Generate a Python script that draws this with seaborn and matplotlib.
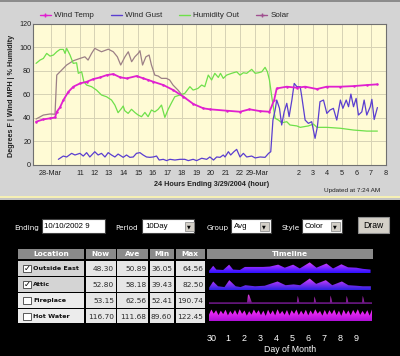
import numpy as np
import pandas as pd
import matplotlib
matplotlib.use('Agg')
import matplotlib.pyplot as plt
import seaborn as sns
from matplotlib.patches import Rectangle
from matplotlib.lines import Line2D
from matplotlib.colors import LinearSegmentedColormap

sns.set_style('white')
plt.rcParams['font.family'] = ['Liberation Sans', 'DejaVu Sans']

W, H = 400, 356

# ---- grafico de cima: horas contadas a partir das 8:00 de 28-Mar
temp_hour = [0.0, 0.5, 0.96, 1.3, 1.42, 1.64, 1.87, 2.21, 2.56, 3.02, 3.48, 3.93, 4.39, 4.85, 5.3,
             5.77, 6.23, 6.9, 7.36, 7.71, 8.05, 8.74, 9.42, 10.12, 10.8, 11.49, 11.93, 13.09, 14.0,
             14.65, 15.35, 16.02, 16.34, 16.52, 17.21, 17.9, 18.47, 19.28, 19.96, 20.89, 21.79, 22.7, 23.43]
temp_val = [36.6, 38.6, 39.5, 40.2, 45.0, 48.8, 55.0, 62.0, 66.5, 69.3, 70.7, 73.0, 74.4, 76.4, 77.3,
            74.5, 73.6, 75.6, 73.6, 72.2, 70.7, 67.9, 63.6, 57.9, 51.7, 48.0, 47.2, 46.0, 45.1,
            47.2, 45.7, 45.1, 55.0, 65.0, 66.5, 65.6, 66.5, 64.5, 66.5, 66.5, 67.0, 67.9, 68.5]

gust_hour = [1.53, 1.87, 2.1, 2.44, 2.67, 3.01, 3.24, 3.47, 3.69, 4.03, 4.26, 4.49, 4.73, 4.95, 5.18,
             5.41, 5.63, 5.98, 6.21, 6.44, 6.67, 6.89, 7.13, 7.35, 7.58, 7.81, 8.04, 8.27, 8.45, 8.73,
             8.96, 9.19, 9.53, 9.88, 10.21, 10.45, 10.78, 11.02, 11.37, 11.71, 11.93, 12.18, 12.4, 12.63,
             12.85, 12.97, 13.2, 13.36, 13.58, 13.77, 14.0, 14.23, 14.46, 14.8, 15.04, 15.38, 15.72,
             15.96, 16.11, 16.26, 16.41, 16.52, 16.71, 16.86, 17.03, 17.21, 17.37, 17.56, 17.72, 17.9,
             18.13, 18.24, 18.47, 18.69, 18.92, 19.15, 19.31, 19.49, 19.73, 19.96, 20.18, 20.41, 20.64,
             20.89, 21.06, 21.29, 21.45, 21.61, 21.79, 21.97, 22.13, 22.36, 22.52, 22.7, 22.94, 23.05,
             23.21, 23.43]
gust_val = [4.5, 7.3, 6.5, 9.6, 8.2, 9.6, 7.3, 10.2, 6.5, 11.0, 8.2, 9.6, 6.5, 10.2, 8.2,
            6.5, 9.0, 6.2, 8.2, 6.2, 6.5, 9.6, 10.2, 8.2, 6.5, 6.2, 6.5, 7.3, 3.9, 4.5,
            3.4, 4.5, 3.9, 4.5, 4.5, 3.4, 4.5, 3.4, 5.4, 4.5, 6.5, 3.9, 6.5, 6.2,
            8.2, 6.5, 11.0, 8.2, 11.0, 13.0, 6.5, 9.6, 6.5, 7.3, 5.7, 6.5, 6.2,
            9.6, 11.0, 38.0, 46.6, 55.1, 48.0, 33.8, 45.0, 52.3, 40.9, 55.1, 69.3, 66.5,
            66.5, 57.9, 38.0, 35.2, 36.6, 22.4, 32.3, 53.7, 55.1, 43.7, 46.6, 48.0, 38.0,
            55.1, 48.0, 55.1, 49.4, 60.2, 49.4, 56.5, 42.3, 45.0, 55.1, 42.3, 49.4, 55.7,
            38.5, 48.7]

hum_hour = [0.0, 0.27, 0.5, 0.73, 0.96, 1.19, 1.42, 1.64, 1.87, 1.99, 2.1, 2.33, 2.55, 2.78, 2.9,
            3.13, 3.28, 3.47, 3.81, 4.15, 4.49, 4.84, 5.18, 5.41, 5.63, 5.87, 5.98, 6.09, 6.32, 6.55,
            6.78, 7.01, 7.24, 7.47, 7.69, 7.92, 8.15, 8.38, 8.61, 8.84, 9.07, 9.3, 9.52, 9.87, 10.21,
            10.56, 10.78, 11.11, 11.37, 11.58, 11.82, 12.05, 12.27, 12.51, 12.66, 12.85, 13.08, 13.42,
            13.77, 14.0, 14.23, 14.46, 14.8, 15.04, 15.27, 15.49, 15.72, 15.88, 16.02, 16.18, 16.41,
            16.64, 16.86, 17.21, 17.43, 17.9, 18.13, 18.69, 19.04, 19.28, 19.96, 20.89, 21.79, 22.7, 23.43]
hum_val = [86.4, 89.2, 90.6, 94.9, 92.6, 93.5, 96.3, 98.3, 98.3, 94.9, 99.2, 93.5, 86.4, 86.9, 77.9,
           79.2, 70.7, 67.9, 66.5, 63.6, 59.4, 57.9, 55.1, 50.8, 44.3, 48.0, 50.0, 46.0, 43.7, 47.2,
           44.5, 42.3, 40.9, 44.5, 40.9, 46.6, 45.0, 47.2, 50.8, 40.3, 47.2, 52.8, 57.9, 59.4, 60.8,
           66.5, 63.6, 65.0, 67.9, 66.5, 76.4, 72.2, 77.9, 74.4, 77.9, 73.6, 76.4, 77.9,
           79.2, 76.4, 78.4, 77.9, 81.3, 77.9, 78.4, 79.2, 83.0, 79.2, 72.2, 57.9, 39.5,
           38.0, 35.7, 36.6, 33.8, 33.0, 31.8, 33.0, 34.6, 31.8, 31.8, 31.0, 29.5, 28.6, 28.6]

solar_hour = [0.0, 0.5, 0.96, 1.3, 1.42, 1.76, 2.1, 2.55, 3.01, 3.35, 3.57, 3.81, 4.03, 4.26, 4.49,
              4.96, 5.3, 5.58, 5.81, 6.1, 6.33, 6.56, 6.78, 7.01, 7.13, 7.31, 7.54, 7.76, 7.92, 8.15,
              8.38, 8.61, 8.95, 9.17, 9.4, 9.74, 10.12, 10.3]
solar_val = [38.9, 42.3, 43.2, 43.0, 76.4, 80.7, 85.0, 88.6, 90.6, 92.0, 89.2, 94.9, 99.2, 97.7, 96.3,
             98.5, 96.3, 92.0, 85.0, 92.0, 96.3, 87.8, 92.0, 94.9, 97.2, 85.0, 92.0, 93.5, 85.0, 76.4,
             75.6, 73.6, 73.6, 72.2, 67.9, 63.6, 57.9, 56.5]

hour_ticks = list(range(1, 25))
hour_labels = ['28-Mar', '', '11', '12', '13', '14', '15', '16', '17', '18', '19', '20', '21', '22',
               '', '29-Mar', '', '2', '3', '4', '5', '6', '7', '8']
y_ticks = [0, 20, 40, 60, 80, 100, 120]

# ---- painel de baixo
locations = ['Outside East', 'Attic', 'Fireplace', 'Hot Water']
checked = [True, True, False, False]
now_vals = [48.30, 52.80, 53.15, 116.70]
ave_vals = [50.89, 58.18, 62.56, 111.68]
min_vals = [36.05, 39.43, 52.41, 89.60]
max_vals = [64.56, 82.50, 190.74, 122.45]
day_labels = ['30', '1', '2', '3', '4', '5', '6', '7', '8', '9']

# timelines (dia 0 = dia 30)
east_day = [-0.15, 0.1, 0.3, 0.72, 1.09, 1.34, 1.76, 2.07, 2.58, 3.2, 3.62, 4.14, 4.55, 5.07, 5.48,
            6.1, 6.52, 7.14, 7.55, 8.07, 8.48, 9.0, 9.4, 9.88]
east_val = [42, 55, 45, 44, 58, 45, 44, 52, 52, 52, 53, 58, 50, 58, 48, 64, 50, 61, 48, 59, 51, 50, 47, 45]
attic_day = [-0.15, 0.1, 0.4, 0.8, 1.1, 1.5, 1.8, 2.1, 2.7, 3.3, 4.1, 4.6, 5.1, 5.5, 6.1, 6.5, 7.1,
             7.5, 8.1, 8.5, 9.0, 9.4, 9.9]
attic_val = [48, 71, 53, 50, 76, 53, 50, 57, 53, 55, 71, 57, 60, 57, 82, 62, 76, 57, 71, 57, 55, 53, 53]
fire_day = [-0.16, 2.2, 2.26, 2.32, 2.5, 5.3, 5.36, 5.45, 6.35, 6.4, 6.5, 7.35, 7.4, 7.5, 8.35, 8.4,
            8.5, 9.35, 9.4, 9.5, 9.97]
fire_val = [53, 53, 170, 185, 54, 53, 160, 54, 53, 150, 54, 53, 165, 54, 53, 160, 54, 53, 160, 54, 53]
hw_val = [100, 121, 104, 118, 98, 116, 102, 120, 97, 115, 101, 119, 99, 122, 103, 117, 96, 114, 100, 121,
          104, 118, 98, 116, 95, 120, 101, 117, 97, 122, 102, 115, 99, 119, 96, 118, 103, 121, 98, 116,
          100, 120, 97, 117, 101, 122, 104, 115, 96, 119, 99, 118, 102, 121, 98, 116, 95, 120, 101, 117,
          97, 119, 103, 122, 99, 115, 100, 118, 96, 121]
hw_day = np.linspace(-0.16, 9.97, len(hw_val))

fig = plt.figure(figsize=(W / 100, H / 100), dpi=100, facecolor='black')


def px_axes(x0, y0, x1, y1):
    return fig.add_axes([x0 / W, 1 - y1 / H, (x1 - x0) / W, (y1 - y0) / H])


bg = fig.add_axes([0, 0, 1, 1])
bg.set_xlim(0, W)
bg.set_ylim(H, 0)
bg.axis('off')


def box(x0, y0, x1, y1, fc, ec='none', lw=0.8):
    bg.add_patch(Rectangle((x0, y0), x1 - x0, y1 - y0, fc=fc, ec=ec, lw=lw))


def txt(x, y, s, **kw):
    kw.setdefault('va', 'center')
    bg.text(x, y, s, **kw)


# fundo do painel de cima
box(0, 0, W, 197.5, '#d4d4d4')
box(0, 0, W, 1.5, '#8c8c8c')
box(0, 196, W, 197.5, '#f6f0b4')
box(0, 197.5, W, 200, '#c4c4c4')

# ---- grafico de linhas
ax = px_axes(33.3, 24, 385.7, 164.6)
ax.set_facecolor('#fffbd5')
sns.lineplot(x=solar_hour, y=solar_val, ax=ax, color='#9c8086', lw=0.9, estimator=None)
sns.lineplot(x=hum_hour, y=hum_val, ax=ax, color='#6ee04a', lw=0.9, estimator=None)
sns.lineplot(x=gust_hour, y=gust_val, ax=ax, color='#5a3ed0', lw=0.9, estimator=None)
sns.lineplot(x=temp_hour, y=temp_val, ax=ax, color='#e020d0', lw=1.3, estimator=None,
             marker='o', markersize=1.8, markeredgewidth=0)
ax.set_xlim(-0.19, 24)
ax.set_ylim(0, 120)
ax.set_xticks(hour_ticks)
ax.set_xticklabels(hour_labels)
ax.get_xticklabels()[15].set_ha('right')
ax.set_yticks(y_ticks)
ax.grid(True, color='#d6d2b4', lw=0.7)
ax.tick_params(axis='x', length=2.5, width=0.6, color='#606060', pad=1.5, labelsize=5.2, labelcolor='#202020')
ax.tick_params(axis='y', length=0, pad=1.5, labelsize=5.2, labelcolor='#202020')
for s in ax.spines.values():
    s.set_color('#707070')
    s.set_linewidth(0.8)
ax.set_xlabel('')
ax.set_ylabel('')

fig.text(12 / W, 1 - 96 / H, 'Degrees F | Wind MPH | % Humidity', rotation=90, ha='center', va='center',
         fontsize=5.2, fontweight='bold', color='#202020')
fig.text(212 / W, 1 - 185 / H, '24 Hours Ending 3/29/2004 (hour)', ha='center', va='center',
         fontsize=5.2, fontweight='bold', color='#202020')
fig.text(324 / W, 1 - 190.7 / H, 'Updated at 7:24 AM', ha='left', va='center', fontsize=4.6, color='#202020')

handles = [Line2D([], [], color='#e020d0', lw=1.0, marker='+', markersize=3),
           Line2D([], [], color='#5a3ed0', lw=1.0),
           Line2D([], [], color='#6ee04a', lw=1.0),
           Line2D([], [], color='#a05090', lw=1.0, marker='+', markersize=3)]
fig.legend(handles, ['Wind Temp', 'Wind Gust', 'Humidity Out', 'Solar'], ncol=4, frameon=False,
           loc='center left', bbox_to_anchor=(40 / W, 1 - 15.5 / H), fontsize=5.8,
           handlelength=1.35, handletextpad=0.4, columnspacing=2.1, borderaxespad=0, borderpad=0)

# ---- controles
ui = dict(color='white', fontsize=5.2, family='DejaVu Sans')
txt(14, 228.3, 'Ending', **ui)
box(41.7, 219, 105, 233.3, 'white', '#404040')
txt(44, 226, '10/10/2002 9', fontsize=5.7, color='black')
txt(115.7, 228.3, 'Period', **ui)
box(142.3, 219, 194.3, 233.3, 'white', '#404040')
txt(145, 226, '10Day', fontsize=5.7, color='black')
txt(206.7, 228.3, 'Group', **ui)
box(231, 219, 270.7, 233.3, 'white', '#404040')
txt(233.5, 226, 'Avg', fontsize=5.7, color='black')
txt(281.7, 228.3, 'Style', **ui)
box(302.3, 219, 341.7, 233.3, 'white', '#404040')
txt(305, 226, 'Color', fontsize=5.7, color='black')
for bx in [185, 260, 331]:
    box(bx, 221.5, bx + 8.5, 231, '#d4d0c8', '#808080', 0.5)
    txt(bx + 4.25, 226.5, '\u25bc', ha='center', fontsize=3.5, color='black', family='DejaVu Sans')
box(358, 217.3, 388.7, 232.7, '#d4d0c8', '#909090')
txt(373.3, 225, 'Draw', ha='center', fontsize=6.2, color='black')

# ---- tabela
cols = [(18, 84), (86, 115.7), (117.3, 148), (149.7, 173.7), (175.7, 205), (207, 372.7)]
heads = ['Location', 'Now', 'Ave', 'Min', 'Max', 'Timeline']
for (c0, c1), hd in zip(cols, heads):
    box(c0, 249, c1, 258.5, '#8a8a8a')
    txt((c0 + c1) / 2, 253.8, hd, ha='center', fontsize=5.3, fontweight='bold', color='white',
        family='DejaVu Sans')

rows = [(261, 275.5), (277, 291.5), (293, 307.5), (309, 323.3)]
for i, (r0, r1) in enumerate(rows):
    ym = (r0 + r1) / 2
    box(cols[0][0], r0, cols[0][1], r1, '#d4d4d4' if checked[i] else '#ececec')
    box(23.3, ym - 3.6, 30.7, ym + 3.6, 'white', '#404040', 0.6)
    if checked[i]:
        txt(27.2, ym - 0.3, '\u2713', ha='center', fontsize=6, fontweight='bold', color='black',
            family='DejaVu Sans')
    txt(33.2, ym + 0.5, locations[i], fontsize=4.6, fontweight='bold', color='#111111', family='DejaVu Sans')
    for (c0, c1), v in zip(cols[1:5], [now_vals[i], ave_vals[i], min_vals[i], max_vals[i]]):
        box(c0, r0, c1, r1, '#e6e6e6')
        txt(c1 - 1.5, ym + 0.5, f'{v:.2f}', ha='right', fontsize=5.3, color='#2a2a2a', family='DejaVu Sans')

# ---- timelines
def spark(y0, y1, days, vals, lo, hi, c0, c1):
    sx = px_axes(209, y0, 372, y1)
    sx.set_xlim(-0.16, 9.97)
    sx.set_ylim(lo, hi)
    sx.axis('off')
    poly = sx.fill_between(days, vals, lo, color='none', lw=0)
    cmap = LinearSegmentedColormap.from_list('grad', [c0, c1])
    grad = np.linspace(0, 1, 64).reshape(-1, 1)
    im = sx.imshow(grad, extent=[-0.16, 9.97, lo, hi], origin='lower', aspect='auto', cmap=cmap)
    im.set_clip_path(poly.get_paths()[0], transform=sx.transData)


spark(262, 273, east_day, east_val, 36, 65, '#2a10ff', '#e040ff')
spark(278, 290, attic_day, attic_val, 39, 84, '#2a20e0', '#e040ff')
spark(294, 304, fire_day, fire_val, 25, 190, '#5a1474', '#ff40ff')
spark(309, 321, hw_day, hw_val, 74, 123, '#b010d8', '#ff30ff')

dx = px_axes(209, 324, 372, 325)
dx.set_xlim(-0.16, 9.97)
dx.set_xticks(range(len(day_labels)))
dx.set_xticklabels(day_labels)
dx.set_yticks([])
dx.patch.set_alpha(0)
for s in dx.spines.values():
    s.set_visible(False)
dx.tick_params(axis='x', length=4.5, width=0.8, color='white', labelcolor='white', labelsize=6.5, pad=2)
fig.text(290 / W, 1 - 349 / H, 'Day of Month', ha='center', va='center', fontsize=6.3, color='white')

fig.savefig('out.png', dpi=100, facecolor='black')
